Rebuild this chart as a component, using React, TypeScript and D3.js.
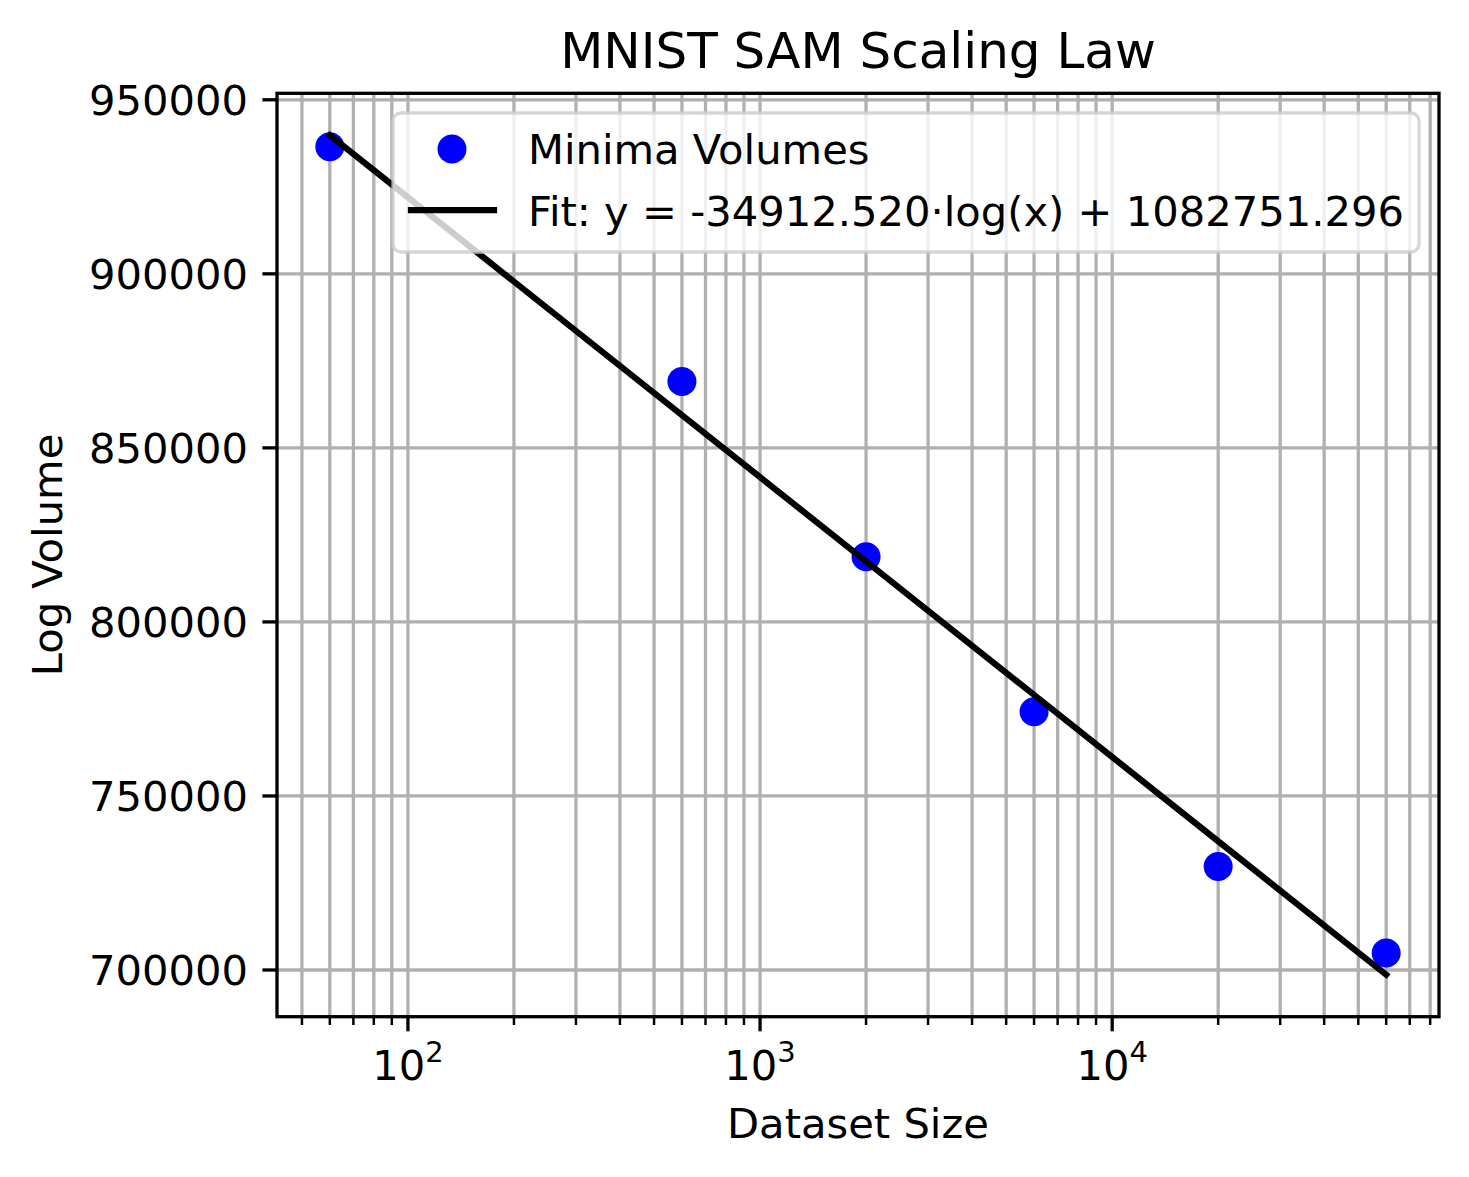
import * as d3 from "d3";

// Data
const datasetSizes = [60, 600, 2000, 6000, 20000, 60000];
const logVolumes = [936500, 869100, 818700, 774200, 729700, 704900];
const yTicks = [700000, 750000, 800000, 850000, 900000, 950000];
const xMajorExps = [2, 3, 4];

// Fit coefficients from the legend
const fitSlope = -34912.52;
const fitIntercept = 1082751.296;

const W = 1469;
const H = 1177;
const margin = { left: 277, right: 30, top: 93.3, bottom: 160.3 };
const FONT = "DejaVu Sans, sans-serif";
const FS = 41.67;

export default function App() {
  const innerW = W - margin.left - margin.right;
  const innerH = H - margin.top - margin.bottom;

  const fitY = (x: number) => fitSlope * Math.log(x) + fitIntercept;
  const fitPts = datasetSizes.map((x) => [x, fitY(x)] as [number, number]);

  // matplotlib-style 5% margins (log space for x)
  const lx0 = Math.log10(d3.min(datasetSizes)!);
  const lx1 = Math.log10(d3.max(datasetSizes)!);
  const lpad = (lx1 - lx0) * 0.05;
  const allY = [...logVolumes, ...fitPts.map((p) => p[1])];
  const y0 = d3.min(allY)!;
  const y1 = d3.max(allY)!;
  const ypad = (y1 - y0) * 0.05;

  const x = d3
    .scaleLog()
    .domain([10 ** (lx0 - lpad), 10 ** (lx1 + lpad)])
    .range([0, innerW]);
  const y = d3
    .scaleLinear()
    .domain([y0 - ypad, y1 + ypad])
    .range([innerH, 0]);

  const [dmin, dmax] = x.domain();
  const minorTicks: number[] = [];
  for (let e = 1; e <= 5; e++) {
    for (let m = 2; m <= 9; m++) {
      const v = m * 10 ** e;
      if (v >= dmin && v <= dmax) minorTicks.push(v);
    }
  }
  const majorTicks = xMajorExps.map((e) => 10 ** e);

  const line = d3
    .line<[number, number]>()
    .x((d) => x(d[0]))
    .y((d) => y(d[1]));

  const grid = "#b0b0b0";

  return (
    <svg
      width={W}
      height={H}
      style={{ position: "absolute", left: 0, top: 0, background: "#fff" }}
      fontFamily={FONT}
    >
      <rect width={W} height={H} fill="#fff" />
      <text x={margin.left + innerW / 2} y={68} textAnchor="middle" fontSize={50}>
        MNIST SAM Scaling Law
      </text>
      <g transform={`translate(${margin.left},${margin.top})`}>
        {/* grid */}
        {[...minorTicks, ...majorTicks].map((t) => (
          <line key={"gx" + t} x1={x(t)} x2={x(t)} y1={0} y2={innerH} stroke={grid} strokeWidth={3.3} />
        ))}
        {yTicks.map((t) => (
          <line key={"gy" + t} x1={0} x2={innerW} y1={y(t)} y2={y(t)} stroke={grid} strokeWidth={3.3} />
        ))}

        {/* data */}
        {datasetSizes.map((d, i) => (
          <circle key={"p" + i} cx={x(d)} cy={y(logVolumes[i])} r={14.5} fill="#0000ff" />
        ))}
        <path d={line(fitPts)!} fill="none" stroke="#000" strokeWidth={6.25} strokeLinecap="square" />

        {/* spines */}
        <rect x={0} y={0} width={innerW} height={innerH} fill="none" stroke="#000" strokeWidth={3.3} />

        {/* y ticks */}
        {yTicks.map((t) => (
          <g key={"ty" + t} transform={`translate(0,${y(t)})`}>
            <line x1={-14.6} x2={0} stroke="#000" strokeWidth={3.3} />
            <text x={-29} dy="0.36em" textAnchor="end" fontSize={FS}>
              {t}
            </text>
          </g>
        ))}

        {/* x ticks */}
        {minorTicks.map((t) => (
          <line key={"mx" + t} x1={x(t)} x2={x(t)} y1={innerH} y2={innerH + 8.3} stroke="#000" strokeWidth={2.5} />
        ))}
        {xMajorExps.map((e) => (
          <g key={"tx" + e} transform={`translate(${x(10 ** e)},${innerH})`}>
            <line y1={0} y2={14.6} stroke="#000" strokeWidth={3.3} />
            <text y={63} textAnchor="middle" fontSize={FS}>
              10
              <tspan dy={-18} fontSize={29}>
                {e}
              </tspan>
            </text>
          </g>
        ))}
      </g>

      {/* axis labels */}
      <text x={margin.left + innerW / 2} y={1138} textAnchor="middle" fontSize={FS}>
        Dataset Size
      </text>
      <text
        transform={`translate(62,${margin.top + innerH / 2}) rotate(-90)`}
        textAnchor="middle"
        fontSize={FS}
      >
        Log Volume
      </text>

      {/* legend */}
      <g>
        <rect
          x={393}
          y={113}
          width={1026}
          height={139}
          rx={8}
          fill="#fff"
          fillOpacity={0.8}
          stroke="#cccccc"
          strokeOpacity={0.8}
          strokeWidth={3.3}
        />
        <circle cx={452} cy={149} r={14.5} fill="#0000ff" />
        <text x={528} y={164} fontSize={FS}>
          Minima Volumes
        </text>
        <line x1={411} x2={494} y1={210} y2={210} stroke="#000" strokeWidth={6.25} strokeLinecap="square" />
        <text x={528} y={226} fontSize={FS}>
          {`Fit: y = ${fitSlope.toFixed(3)}·log(x) + ${fitIntercept.toFixed(3)}`}
        </text>
      </g>
    </svg>
  );
}
